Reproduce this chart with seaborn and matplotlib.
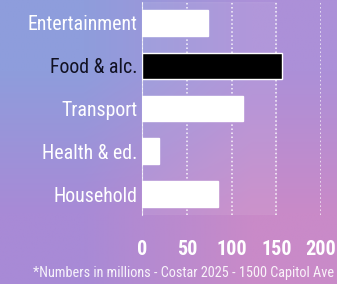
import numpy as np
import pandas as pd
import matplotlib.pyplot as plt
import seaborn as sns

categories = ['Entertainment', 'Food & alc.', 'Transport', 'Health & ed.', 'Household']
spending = [73, 156, 113, 18, 85]
bar_colors = ['white', 'black', 'white', 'white', 'white']
x_ticks = [0, 50, 100, 150, 200]
footnote = '*Numbers in millions - Costar 2025 - 1500 Capitol Ave'

sns.set_style('white')
plt.rcParams['font.family'] = ['Roboto Condensed', 'Liberation Sans Narrow', 'DejaVu Sans']

df = pd.DataFrame({'category': categories, 'value': spending})

fig = plt.figure(figsize=(3.37, 2.84), dpi=100)

# diagonal gradient background
bg = fig.add_axes([0, 0, 1, 1], zorder=-10)
corners = np.array([[[0x8e, 0x9d, 0xdc], [0xac, 0x90, 0xd8]],
                    [[0xa8, 0x8a, 0xd6], [0xc9, 0x8a, 0xc8]]]) / 255
bg.imshow(corners, interpolation='bilinear', extent=[0, 1, 0, 1], aspect='auto')
bg.axis('off')

ax = fig.add_axes([0.4228, 0.2412, 0.5297, 0.7535])
ax.patch.set_alpha(0)
sns.barplot(data=df, x='value', y='category', hue='category', palette=bar_colors,
            legend=False, width=0.6, ax=ax, saturation=1, zorder=3)
ax.axvspan(0, 150, color='white', alpha=0.07, zorder=0)

ax.set_xlim(0, 200)
ax.set_xticks(x_ticks)
ax.grid(axis='x', color='white', linestyle=':', linewidth=1.1, alpha=0.9, zorder=1)
ax.set_xlabel('')
ax.set_ylabel('')
for s in ['top', 'right', 'bottom']:
    ax.spines[s].set_visible(False)
ax.spines['left'].set_color('white')
ax.spines['left'].set_alpha(0.7)
ax.tick_params(axis='x', length=0, pad=18, labelsize=14.5, labelcolor='white')
ax.tick_params(axis='y', length=0, pad=3.6, labelsize=14.3, labelcolor='white')
for lbl in ax.get_xticklabels():
    lbl.set_fontweight('bold')
for lbl, c in zip(ax.get_yticklabels(), bar_colors):
    if c == 'black':
        lbl.set_color('#111122')

fig.text(0.99, 0.04, footnote, ha='right', va='center', fontsize=10.3, color='white', alpha=0.9)

fig.savefig('out.png', dpi=100)
